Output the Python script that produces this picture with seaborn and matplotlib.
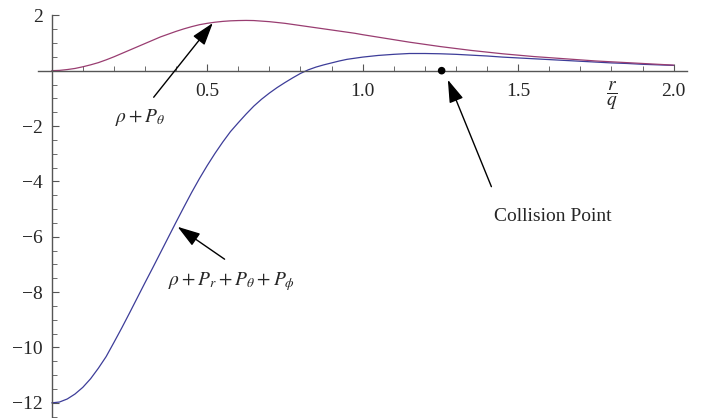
import numpy as np
import pandas as pd
import matplotlib
matplotlib.use("Agg")
import matplotlib.pyplot as plt
from matplotlib.ticker import FixedLocator, StrMethodFormatter
import seaborn as sns

# === Data ===
# r/q grid: 0.025 steps up to 1.0, then 0.05 steps up to 2.0
r_q = np.concatenate([np.linspace(0, 1, 41), np.linspace(1.05, 2, 20)])

rho_p_theta = [0.0, 0.01, 0.04, 0.08, 0.14, 0.21, 0.29, 0.39, 0.50, 0.62,
               0.74, 0.86, 0.98, 1.10, 1.22, 1.32, 1.42, 1.51, 1.59, 1.66,
               1.71, 1.75, 1.78, 1.80, 1.81, 1.815, 1.81, 1.79, 1.77, 1.74,
               1.71, 1.67, 1.63, 1.59, 1.55, 1.51, 1.47, 1.43, 1.39, 1.35,
               1.30,
               1.21, 1.12, 1.03, 0.95, 0.87, 0.80, 0.73, 0.67, 0.61, 0.56,
               0.51, 0.47, 0.43, 0.39, 0.35, 0.32, 0.29, 0.26, 0.23, 0.20]

rho_p_all = [-12.0, -11.97, -11.86, -11.68, -11.44, -11.13, -10.75, -10.33, -9.82, -9.30,
             -8.76, -8.21, -7.66, -7.12, -6.57, -6.02, -5.47, -4.93, -4.40, -3.90,
             -3.43, -2.99, -2.58, -2.20, -1.88, -1.57, -1.28, -1.03, -0.81, -0.61,
             -0.43, -0.26, -0.10, 0.03, 0.13, 0.21, 0.28, 0.35, 0.41, 0.45,
             0.49,
             0.55, 0.59, 0.62, 0.62, 0.61, 0.59, 0.56, 0.53, 0.49, 0.46,
             0.43, 0.40, 0.37, 0.34, 0.31, 0.28, 0.26, 0.23, 0.21, 0.19]

collision_x = [1.254]
collision_y = [0.0]

x_major = [0.5, 1.0, 1.5, 2.0]
y_major = [-12, -10, -8, -6, -4, -2, 2]

df = pd.DataFrame({"r": r_q, "theta": rho_p_theta, "all": rho_p_all})

# === Style ===
sns.set_style("white")
plt.rcParams["font.family"] = ["Liberation Serif", "DejaVu Serif"]
plt.rcParams["mathtext.fontset"] = "stix"
plt.rcParams["axes.unicode_minus"] = True

W, H = 702, 418
fig = plt.figure(figsize=(W / 100, H / 100), dpi=100)
ax = fig.add_axes([38.3 / W, 1 - 416.7 / H, (687.3 - 38.3) / W, (416.7 - 15.3) / H])

sns.lineplot(data=df, x="r", y="all", color="#3d3d99", lw=0.9, ax=ax)
sns.lineplot(data=df, x="r", y="theta", color="#993d71", lw=0.9, ax=ax)
sns.scatterplot(x=collision_x, y=collision_y, color="black", s=30, edgecolor="none", ax=ax, zorder=5)

ax.set_xlim(-0.0431, 2.044)
ax.set_ylim(-12.5, 2.0)
ax.set_xlabel("")
ax.set_ylabel("")

# axes crossing at the origin
axis_col = "#555555"
for s in ["top", "right"]:
    ax.spines[s].set_visible(False)
ax.spines["left"].set_position(("data", 0))
ax.spines["bottom"].set_position(("data", 0))
for s in ["left", "bottom"]:
    ax.spines[s].set_color(axis_col)
    ax.spines[s].set_linewidth(1.0)

ax.xaxis.set_major_locator(FixedLocator(x_major))
ax.xaxis.set_major_formatter(StrMethodFormatter("{x:.1f}"))
ax.xaxis.set_minor_locator(FixedLocator([v / 10 for v in range(1, 20) if v % 5 != 0]))
ax.yaxis.set_major_locator(FixedLocator(y_major))
ax.yaxis.set_minor_locator(FixedLocator([v / 2 for v in range(-25, 4) if v % 4 != 0]))

ax.tick_params(bottom=True, left=True, which="both")
ax.tick_params(axis="x", which="major", direction="in", length=5, width=0.8,
               color=axis_col, pad=9, labelsize=14)
ax.tick_params(axis="x", which="minor", direction="in", length=3.3, width=0.6, color=axis_col)
ax.tick_params(axis="y", which="major", direction="in", length=5, width=0.8,
               color=axis_col, pad=6.5, labelsize=14)
ax.tick_params(axis="y", which="minor", direction="in", length=3.3, width=0.6, color=axis_col)

# axis label r/q
ax.text(1.80, -0.9, r"$\dfrac{r}{q}$", ha="center", va="center", fontsize=14)

# === Annotations ===
arrow = dict(arrowstyle="-|>,head_length=1.4,head_width=0.45", mutation_scale=10,
             color="black", lw=1.0, shrinkA=0, shrinkB=0)

ax.annotate("", xy=(0.518, 1.72), xytext=(0.328, -0.96), arrowprops=arrow)
ax.text(0.283, -1.68, r"$\rho + P_\theta$", ha="center", va="center", fontsize=14)

ax.annotate("", xy=(0.405, -5.64), xytext=(0.556, -6.81), arrowprops=arrow)
ax.text(0.579, -7.63, r"$\rho + P_r + P_\theta + P_\phi$", ha="center", va="center", fontsize=14)

ax.annotate("", xy=(1.274, -0.33), xytext=(1.414, -4.19), arrowprops=arrow)
ax.text(1.611, -5.28, "Collision Point", ha="center", va="center", fontsize=14)

fig.savefig("out.png", dpi=100)
plt.close(fig)
